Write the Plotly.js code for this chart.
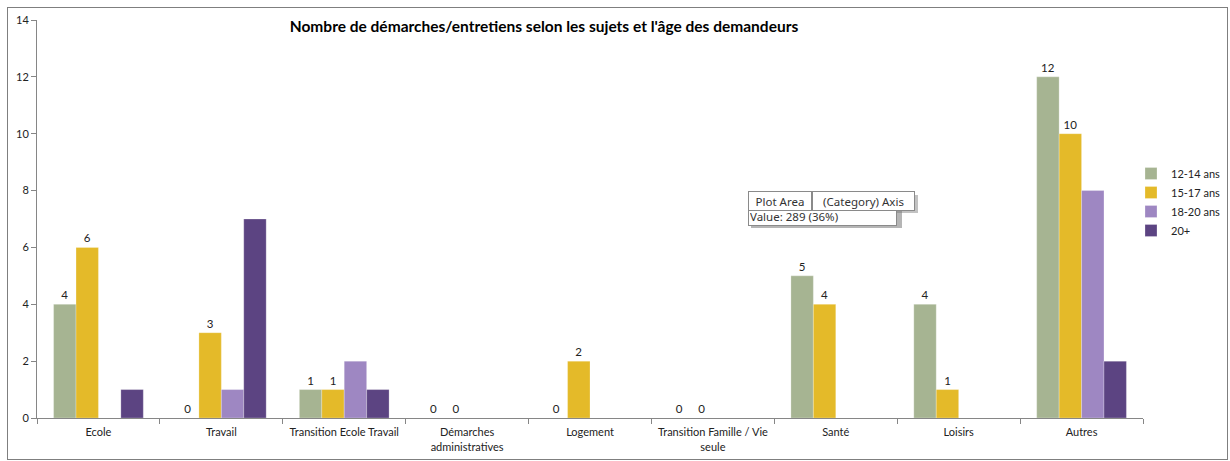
<!DOCTYPE html>
<html>
<head>
<meta charset="utf-8">
<script src="https://cdn.plot.ly/plotly-3.0.1.min.js"></script>
<style>
html,body{margin:0;padding:0;background:#fff;}
#wrap{position:relative;width:1230px;height:461px;}
#chart{position:absolute;left:0;top:0;width:1230px;height:461px;}
#frame{position:absolute;left:7px;top:7px;width:1219px;height:451px;border:1px solid #7f7f7f;pointer-events:none;}
</style>
</head>
<body>
<div id="wrap"><div id="chart"></div><div id="frame"></div></div>
<script>
const categories = ["Ecole","Travail","Transition Ecole Travail","Démarches<br>administratives","Logement","Transition Famille / Vie<br>seule","Santé","Loisirs","Autres"];
const seriesNames = ["12-14 ans","15-17 ans","18-20 ans","20+"];
const v1214 = [4,0,1,0,0,0,5,4,12];
const v1517 = [6,3,1,0,2,0,4,1,10];
const v1820 = [null,1,2,null,null,null,null,null,8];
const v20p  = [1,7,1,null,null,null,null,null,2];
const yTicks = [0,2,4,6,8,10,12,14];
const titleText = "Nombre de démarches/entretiens selon les sujets et l'âge des demandeurs";

const colors = ["#A6B492","#E4BA29","#9E87C2","#5C4482"];
const FONT = "Lato, 'Open Sans', sans-serif";

const M = {l:37, r:87, t:20, b:43, autoexpand:false};
const W = 1230, H = 461;
const PW = W - M.l - M.r, PH = H - M.t - M.b;
const px = x => (x - M.l) / PW;
const py = y => (H - M.b - y) / PH;

function bar(name, vals, color, labels){
  const t = {
    type:'bar', name:name, x:categories, y:vals,
    marker:{color:color, line:{color:'rgba(255,255,255,0.5)', width:0.5}},
    hoverinfo:'skip'
  };
  if (labels){
    t.text = vals.map(v => v===null ? '' : String(v));
    t.textposition = 'outside';
    t.textfont = {family:FONT, size:11.5, color:'#222'};
    t.cliponaxis = false;
  }
  return t;
}

const data = [
  bar(seriesNames[0], v1214, colors[0], true),
  bar(seriesNames[1], v1517, colors[1], true),
  bar(seriesNames[2], v1820, colors[2], false),
  bar(seriesNames[3], v20p,  colors[3], false)
];

const tipFont = {family:"'Noto Sans', sans-serif", size:11.5, color:'#333'};
const layout = {
  width:W, height:H,
  margin:M,
  paper_bgcolor:'#fff', plot_bgcolor:'#fff',
  barmode:'group', bargap:0.27, bargroupgap:0,
  showlegend:true,
  font:{family:FONT, size:11, color:'#222'},
  title:{text:'<b>'+titleText+'</b>', font:{family:FONT, size:15.5, color:'#000'},
         xref:'paper', x:px(544), xanchor:'center', yref:'container', y:1-27/H, yanchor:'middle'},
  legend:{x:px(1131), xanchor:'left', y:py(159), yanchor:'top', font:{family:FONT, size:11, color:'#222'},
          bgcolor:'rgba(0,0,0,0)', itemwidth:30, tracegroupgap:0},
  xaxis:{type:'category', showgrid:false, showline:true, linecolor:'#868686', linewidth:1,
         ticks:'outside', tickson:'boundaries', ticklen:5, tickcolor:'#868686', ticklabelstandoff:4,
         tickfont:{family:FONT, size:11, color:'#222'}, zeroline:false, fixedrange:true},
  yaxis:{range:[0,14], tickvals:yTicks, showgrid:false, showline:true, linecolor:'#868686', linewidth:1,
         ticks:'outside', ticklen:5, tickcolor:'#868686', zeroline:false,
         tickfont:{family:FONT, size:11, color:'#222'}, fixedrange:true},
  shapes:[
    {type:'rect', xref:'paper', yref:'paper', x0:px(751), x1:px(902), y0:py(209), y1:py(228), fillcolor:'rgba(120,120,120,0.55)', line:{width:0}, layer:'above'},
    {type:'rect', xref:'paper', yref:'paper', x0:px(815), x1:px(918), y0:py(195), y1:py(213), fillcolor:'rgba(120,120,120,0.45)', line:{width:0}, layer:'above'}
  ],
  annotations:[
    {xref:'paper', yref:'paper', x:px(748), y:py(216), xanchor:'left', yanchor:'middle', text:'Value: 289 (36%)', showarrow:false,
     font:tipFont, bgcolor:'#fff', bordercolor:'#8a8a8a', borderwidth:1, borderpad:1, width:145, height:16, align:'left'},
    {xref:'paper', yref:'paper', x:px(748), y:py(201), xanchor:'left', yanchor:'middle', text:'Plot Area', showarrow:false,
     font:tipFont, bgcolor:'#fff', bordercolor:'#8a8a8a', borderwidth:1, borderpad:1, width:60, height:16},
    {xref:'paper', yref:'paper', x:px(812), y:py(201), xanchor:'left', yanchor:'middle', text:'(Category) Axis', showarrow:false,
     font:tipFont, bgcolor:'#fff', bordercolor:'#8a8a8a', borderwidth:1, borderpad:1, width:99, height:16}
  ]
};

Plotly.newPlot('chart', data, layout, {displayModeBar:false, staticPlot:true});
</script>
</body>
</html>
